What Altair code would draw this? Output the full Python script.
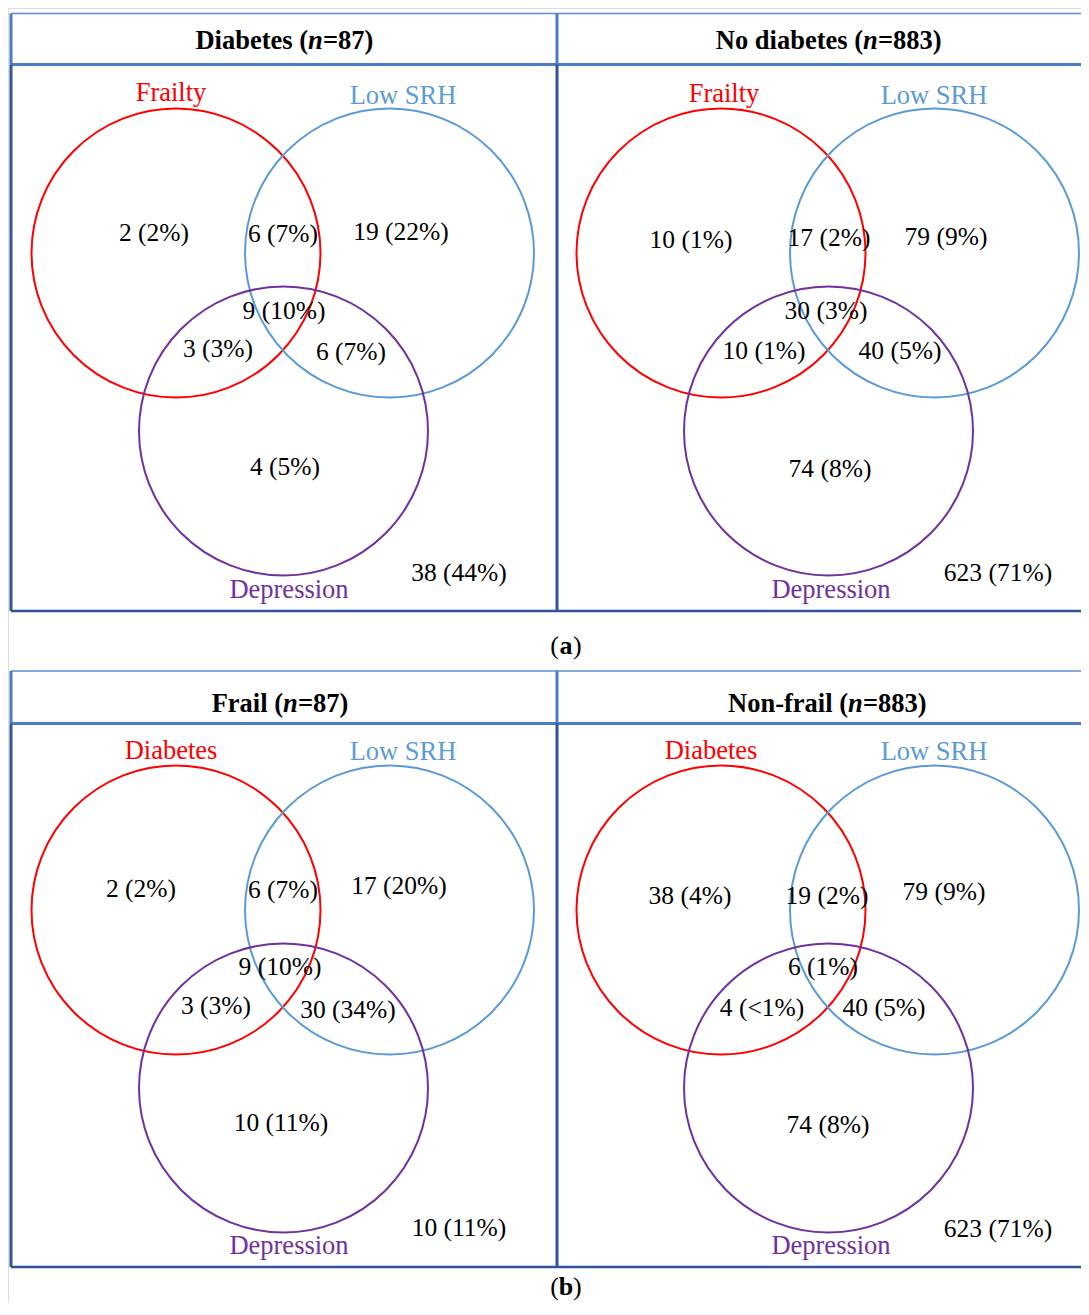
import altair as alt
import pandas as pd

# ---------------- data ----------------
panel_titles = ["Diabetes", "No diabetes", "Frail", "Non-frail"]
panel_n = ["87", "883", "87", "883"]
set_a = ["Frailty", "Frailty", "Diabetes", "Diabetes"]
set_b = ["Low SRH", "Low SRH", "Low SRH", "Low SRH"]
set_c = ["Depression", "Depression", "Depression", "Depression"]
# region order: A only, A&B, B only, A&B&C, A&C, B&C, C only, none
counts = [
    [2, 6, 19, 9, 3, 6, 4, 38],
    [10, 17, 79, 30, 10, 40, 74, 623],
    [2, 6, 17, 9, 3, 30, 10, 10],
    [38, 19, 79, 6, 4, 40, 74, 623],
]
percents = [
    ["2%", "7%", "22%", "10%", "3%", "7%", "5%", "44%"],
    ["1%", "2%", "9%", "3%", "1%", "5%", "8%", "71%"],
    ["2%", "7%", "20%", "10%", "3%", "34%", "11%", "11%"],
    ["4%", "2%", "9%", "1%", "<1%", "5%", "8%", "71%"],
]
captions = ["a", "b"]

# ---------------- layout (pixel positions) ----------------
FONT = "Liberation Serif"
W, H = 1073, 1295
panel_dx = [0, 545, 0, 545]
panel_dy = [0, 0, 657, 657]
circle_centers = [(176, 253), (389.5, 253), (283.5, 431)]
circle_colors = ["#FF0000", "#5B9BD5", "#7030A0"]
circle_diam = 289

region_pos = [
    [(154, 233), (283, 234), (401, 232), (284, 311), (218, 349), (351, 352), (285, 467), (459, 573)],
    [(691, 240), (829, 238), (946, 237), (826, 311), (764, 351), (900, 351), (830, 469), (998, 573)],
    [(141, 889), (283, 890), (399, 886), (280, 967), (216, 1006), (348, 1010), (281, 1123), (459, 1228)],
    [(690, 896), (827, 896), (944, 892), (823, 967), (762, 1008), (884, 1008), (828, 1125), (998, 1229)],
]
set_pos = [
    [(171, 93), (403, 96), (289, 590)],
    [(724, 94), (934, 96), (831, 590)],
    [(171, 751), (403, 752), (289, 1246)],
    [(711, 751), (934, 752), (831, 1246)],
]
header_y = [41, 41, 704, 704]
header_nx = [308, 863, 283, 848]
caption_pos = [(566, 646), (566, 1287)]
boxes = [(13.5, 64.5, 611), (671, 723.5, 1267)]
box_x = (11, 557, 1089)

xs = alt.Scale(domain=[8, 8 + W], nice=False, zero=False)
ys = alt.Scale(domain=[8 + H, 8], nice=False, zero=False)
X = alt.X("x:Q", scale=xs, axis=None)
Y = alt.Y("y:Q", scale=ys, axis=None)

# ---- box borders ----
rules = []
light, dark = "#4A7CC6", "#2F5597"
for (t, s, b) in boxes:
    rules.append(dict(x=box_x[0], x2=box_x[2], y=t, y2=t, c="#5B8BD0", w=1.5))
    rules.append(dict(x=box_x[0], x2=box_x[2], y=s, y2=s, c=light, w=3))
    rules.append(dict(x=box_x[0], x2=box_x[2], y=b, y2=b, c=dark, w=2.5))
    for xv in box_x[:2]:
        rules.append(dict(x=xv, x2=xv, y=t, y2=s, c=light, w=3))
        rules.append(dict(x=xv, x2=xv, y=s, y2=b, c=dark, w=3))
rules_df = pd.DataFrame(rules)
rule_layer = alt.Chart(rules_df).mark_rule().encode(
    x=X, x2="x2:Q", y=Y, y2="y2:Q",
    color=alt.Color("c:N", scale=None),
    strokeWidth=alt.StrokeWidth("w:Q", scale=None),
)

# ---- circles ----
circ = []
for p in range(4):
    for (cx, cy), col in zip(circle_centers, circle_colors):
        circ.append(dict(x=cx + panel_dx[p], y=cy + panel_dy[p], c=col))
circ_df = pd.DataFrame(circ)
circle_layer = alt.Chart(circ_df).mark_point(
    shape="circle", filled=False, strokeWidth=2, opacity=1
).encode(
    x=X, y=Y, stroke=alt.Stroke("c:N", scale=None),
    size=alt.value(circle_diam ** 2),
)

# ---- region counts ----
reg = []
for p in range(4):
    for i in range(8):
        reg.append(dict(x=region_pos[p][i][0], y=region_pos[p][i][1],
                        t=f"{counts[p][i]} ({percents[p][i]})"))
reg_layer = alt.Chart(pd.DataFrame(reg)).mark_text(
    font=FONT, fontSize=25.5, color="black", baseline="middle", align="center"
).encode(x=X, y=Y, text="t:N")

# ---- set labels ----
sl = []
for p in range(4):
    names = [set_a[p], set_b[p], set_c[p]]
    for i in range(3):
        sl.append(dict(x=set_pos[p][i][0], y=set_pos[p][i][1], t=names[i], c=circle_colors[i]))
set_layer = alt.Chart(pd.DataFrame(sl)).mark_text(
    font=FONT, fontSize=26.5, baseline="middle", align="center"
).encode(x=X, y=Y, text="t:N", color=alt.Color("c:N", scale=None))

# ---- headers ----
hp = pd.DataFrame([dict(x=header_nx[p], y=header_y[p], t=f"{panel_titles[p]} (") for p in range(4)])
hn = pd.DataFrame([dict(x=header_nx[p], y=header_y[p], t="n") for p in range(4)])
hs = pd.DataFrame([dict(x=header_nx[p] + 15, y=header_y[p], t=f"={panel_n[p]})") for p in range(4)])
hdr_kw = dict(font=FONT, fontSize=26.5, fontWeight="bold", color="black", baseline="middle")
h1 = alt.Chart(hp).mark_text(align="right", **hdr_kw).encode(x=X, y=Y, text="t:N")
h2 = alt.Chart(hn).mark_text(align="left", fontStyle="italic", **hdr_kw).encode(x=X, y=Y, text="t:N")
h3 = alt.Chart(hs).mark_text(align="left", **hdr_kw).encode(x=X, y=Y, text="t:N")

# ---- captions ----
cap_mid = pd.DataFrame([dict(x=caption_pos[i][0], y=caption_pos[i][1], t=captions[i]) for i in range(2)])
cap_l = pd.DataFrame([dict(x=caption_pos[i][0] - 7, y=caption_pos[i][1], t="(") for i in range(2)])
cap_r = pd.DataFrame([dict(x=caption_pos[i][0] + 7, y=caption_pos[i][1], t=")") for i in range(2)])
cap_kw = dict(font=FONT, fontSize=26, color="black", baseline="middle")
c1 = alt.Chart(cap_mid).mark_text(align="center", fontWeight="bold", **cap_kw).encode(x=X, y=Y, text="t:N")
c2 = alt.Chart(cap_l).mark_text(align="right", **cap_kw).encode(x=X, y=Y, text="t:N")
c3 = alt.Chart(cap_r).mark_text(align="left", **cap_kw).encode(x=X, y=Y, text="t:N")

chart = alt.layer(
    rule_layer, circle_layer, reg_layer, set_layer, h1, h2, h3, c1, c2, c3
).properties(
    width=W, height=H, padding=0,
    autosize=alt.AutoSizeParams(type="none"),
).configure_view(stroke="transparent", strokeWidth=0).configure(background="white")

chart.save("out.html", embed_options={"renderer": "svg", "actions": False})
